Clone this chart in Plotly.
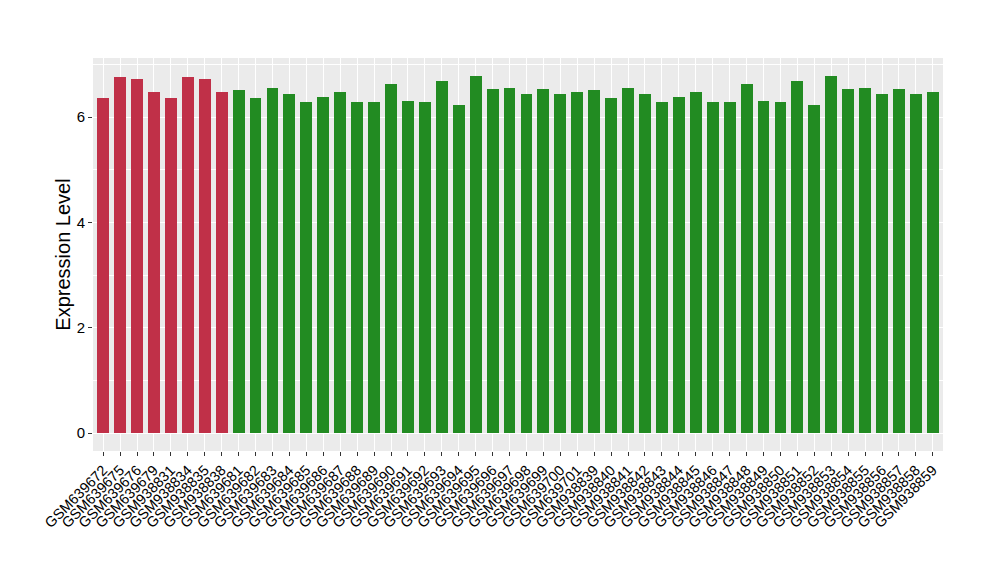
import plotly.graph_objects as go

samples = ["GSM639672", "GSM639675", "GSM639676", "GSM639679",
           "GSM938831", "GSM938834", "GSM938835", "GSM938838",
           "GSM639681", "GSM639682", "GSM639683", "GSM639684", "GSM639685",
           "GSM639686", "GSM639687", "GSM639688", "GSM639689", "GSM639690",
           "GSM639691", "GSM639692", "GSM639693", "GSM639694", "GSM639695",
           "GSM639696", "GSM639697", "GSM639698", "GSM639699", "GSM639700",
           "GSM639701",
           "GSM938839", "GSM938840", "GSM938841", "GSM938842", "GSM938843",
           "GSM938844", "GSM938845", "GSM938846", "GSM938847", "GSM938848",
           "GSM938849", "GSM938850", "GSM938851", "GSM938852", "GSM938853",
           "GSM938854", "GSM938855", "GSM938856", "GSM938857", "GSM938858",
           "GSM938859"]

values = [6.36, 6.76, 6.72, 6.47, 6.36, 6.76, 6.72, 6.47,
          6.51, 6.36, 6.55, 6.44, 6.28, 6.38, 6.47, 6.28, 6.28, 6.62,
          6.30, 6.28, 6.68, 6.23, 6.78, 6.53, 6.55, 6.44, 6.53, 6.44,
          6.47,
          6.51, 6.36, 6.55, 6.44, 6.28, 6.38, 6.47, 6.28, 6.28, 6.62,
          6.30, 6.28, 6.68, 6.23, 6.78, 6.53, 6.55, 6.44, 6.53, 6.44,
          6.47]

groups = ["red"] * 8 + ["green"] * 42
group_colors = {"red": "#C03048", "green": "#228B22"}
colors = [group_colors[g] for g in groups]

fig = go.Figure(go.Bar(
    x=list(range(len(samples))), y=values,
    marker=dict(color=colors, line=dict(width=0)),
    width=0.7,
))

fig.update_layout(
    width=1000, height=580,
    margin=dict(l=85, r=65, t=50, b=137),
    paper_bgcolor="white", plot_bgcolor="#EBEBEB",
    font=dict(family="Liberation Sans, Arial, sans-serif", color="#000000"),
    showlegend=False,
    bargap=0,
)
fig.update_xaxes(
    tickmode="array", tickvals=list(range(len(samples))), ticktext=samples,
    range=[-0.6, len(samples) - 0.4],
    tickangle=-45, tickfont=dict(size=14.5, color="#000000"),
    ticks="outside", ticklen=4, tickcolor="#333333", tickwidth=1,
    showgrid=True, gridcolor="white", gridwidth=1.2,
    zeroline=False, showline=False, automargin=False,
)
fig.update_yaxes(
    range=[-0.339, 7.12],
    tickvals=[0, 2, 4, 6], tickfont=dict(size=15, color="#000000"),
    ticks="outside", ticklen=4, tickcolor="#333333", tickwidth=1,
    showgrid=True, gridcolor="white", gridwidth=1.2,
    minor=dict(tickvals=[1, 3, 5, 7], showgrid=True, gridcolor="white", gridwidth=0.6, ticks=""),
    zeroline=False, showline=False, automargin=False,
    title=dict(text="Expression Level", font=dict(size=20, color="#000000"), standoff=0),
)

fig.write_html("out.html")
